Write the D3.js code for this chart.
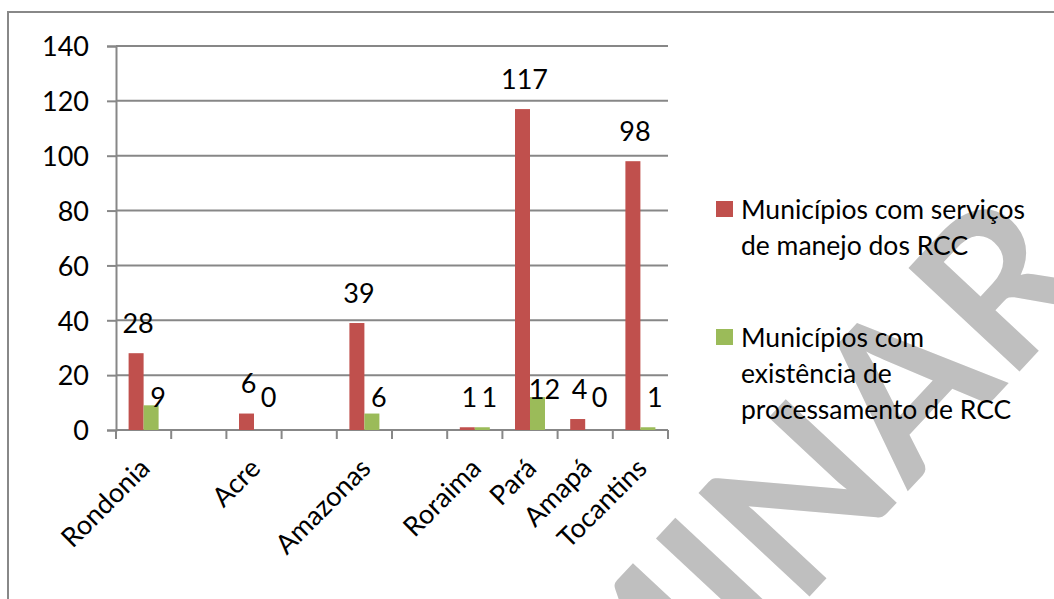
<!DOCTYPE html>
<html>
<head>
<meta charset="utf-8">
<script src="https://cdn.jsdelivr.net/npm/d3@7"></script>
<style>
  html, body { margin: 0; padding: 0; background: #fff; }
  svg { display: block; }
  text { font-family: Lato, "Open Sans", sans-serif; fill: #000; }
</style>
</head>
<body>
<svg id="chart" width="1054" height="599"></svg>
<script>
// ---- data ----
const categories = ["Rondonia", "", "Acre", "", "Amazonas", "", "Roraima", "Pará", "Amapá", "Tocantins"];
const servicos = [28, null, 6, null, 39, null, 1, 117, 4, 98];
const processamento = [9, null, 0, null, 6, null, 1, 12, 0, 1];
const yTicks = [0, 20, 40, 60, 80, 100, 120, 140];
const legendLines = [["Municípios com serviços", "de manejo dos RCC"], ["Municípios com", "existência de", "processamento de RCC"]];
const colors = ["#C0504D", "#9BBB59"];
const watermark = "PRELIMINAR";

const svg = d3.select("#chart");
const W = 1054, H = 599;

svg.append("rect").attr("width", W).attr("height", H).attr("fill", "#fff");

// watermark (behind)
svg.append("text")
  .attr("transform", "translate(1100,285) rotate(-47)")
  .attr("text-anchor", "end")
  .style("font-family", "Lato, sans-serif")
  .style("font-weight", "700")
  .style("font-size", "210px")
  .style("fill", "#bfbfbf")
  .text(watermark);

// outer border
svg.append("rect")
  .attr("x", 8).attr("y", 12).attr("width", 1200).attr("height", 800)
  .attr("fill", "none").attr("stroke", "#888").attr("stroke-width", 2);

const x0 = 116, x1 = 668, yTop = 46, yBot = 430;
const x = d3.scaleBand().domain(d3.range(categories.length)).range([x0, x1]).paddingInner(0).paddingOuter(0);
const y = d3.scaleLinear().domain([0, 140]).range([yBot, yTop]);
const inner = d3.scaleBand().domain([0, 1]).range([0, x.bandwidth()]).paddingInner(0).paddingOuter(0.84);

// gridlines
svg.append("g").selectAll("line").data(yTicks.filter(d => d > 0)).join("line")
  .attr("x1", x0).attr("x2", x1)
  .attr("y1", d => y(d)).attr("y2", d => y(d))
  .attr("stroke", "#878787").attr("stroke-width", 2);

// y axis
const yAxis = svg.append("g").attr("transform", `translate(${x0},0)`)
  .call(d3.axisLeft(y).tickValues(yTicks).tickSize(9).tickPadding(18).tickFormat(d3.format("d")));
yAxis.select(".domain").attr("stroke", "#878787").attr("stroke-width", 2);
yAxis.selectAll(".tick line").attr("stroke", "#878787").attr("stroke-width", 2);
yAxis.selectAll(".tick text").style("font-size", "27px").style("font-family", "Lato, sans-serif").attr("dy", "0.36em");

// x axis
const boundaries = d3.range(categories.length + 1).map(i => x0 + i * x.step());
svg.append("line").attr("x1", x0).attr("x2", x1).attr("y1", yBot).attr("y2", yBot)
  .attr("stroke", "#878787").attr("stroke-width", 2);
svg.append("g").selectAll("line").data(boundaries).join("line")
  .attr("x1", d => d).attr("x2", d => d).attr("y1", yBot).attr("y2", yBot + 9)
  .attr("stroke", "#878787").attr("stroke-width", 2);

// category labels
svg.append("g").selectAll("text").data(categories.map((c, i) => ({c, i})).filter(d => d.c)).join("text")
  .attr("transform", d => `translate(${x(d.i) + x.bandwidth() / 2 + 8},470) rotate(-45)`)
  .attr("text-anchor", "end")
  .style("font-size", "27px")
  .text(d => d.c);

// bars
const series = [servicos, processamento];
series.forEach((vals, s) => {
  svg.append("g").selectAll("rect").data(vals.map((v, i) => ({v, i})).filter(d => d.v !== null)).join("rect")
    .attr("x", d => x(d.i) + inner(s))
    .attr("width", inner.bandwidth())
    .attr("y", d => y(d.v))
    .attr("height", d => yBot - y(d.v))
    .attr("fill", colors[s]);
});

// data labels
svg.append("g").selectAll("text").data(servicos.map((v, i) => ({v, i})).filter(d => d.v !== null)).join("text")
  .attr("x", d => x(d.i) + inner(0) + inner.bandwidth() / 2 + 2)
  .attr("y", d => y(d.v) - 30)
  .attr("dy", "0.36em")
  .attr("text-anchor", "middle")
  .style("font-size", "27px")
  .text(d => d.v);
svg.append("g").selectAll("text").data(processamento.map((v, i) => ({v, i})).filter(d => d.v !== null)).join("text")
  .attr("x", d => x(d.i) + inner(1) + inner.bandwidth() / 2 + 7)
  .attr("y", d => Math.min(y(d.v) - 8, y(12)))
  .attr("dy", "0.36em")
  .attr("text-anchor", "middle")
  .style("font-size", "27px")
  .text(d => d.v);

// legend
const legendY = [[209, 245], [337, 373, 409]];
legendLines.forEach((lines, s) => {
  const g = svg.append("g");
  g.append("rect").attr("x", 716).attr("y", legendY[s][0] - 8).attr("width", 17).attr("height", 16).attr("fill", colors[s]);
  g.selectAll("text").data(lines).join("text")
    .attr("x", 741).attr("y", (d, k) => legendY[s][k]).attr("dy", "0.36em")
    .style("font-size", "26.5px")
    .text(d => d);
});
</script>
</body>
</html>
